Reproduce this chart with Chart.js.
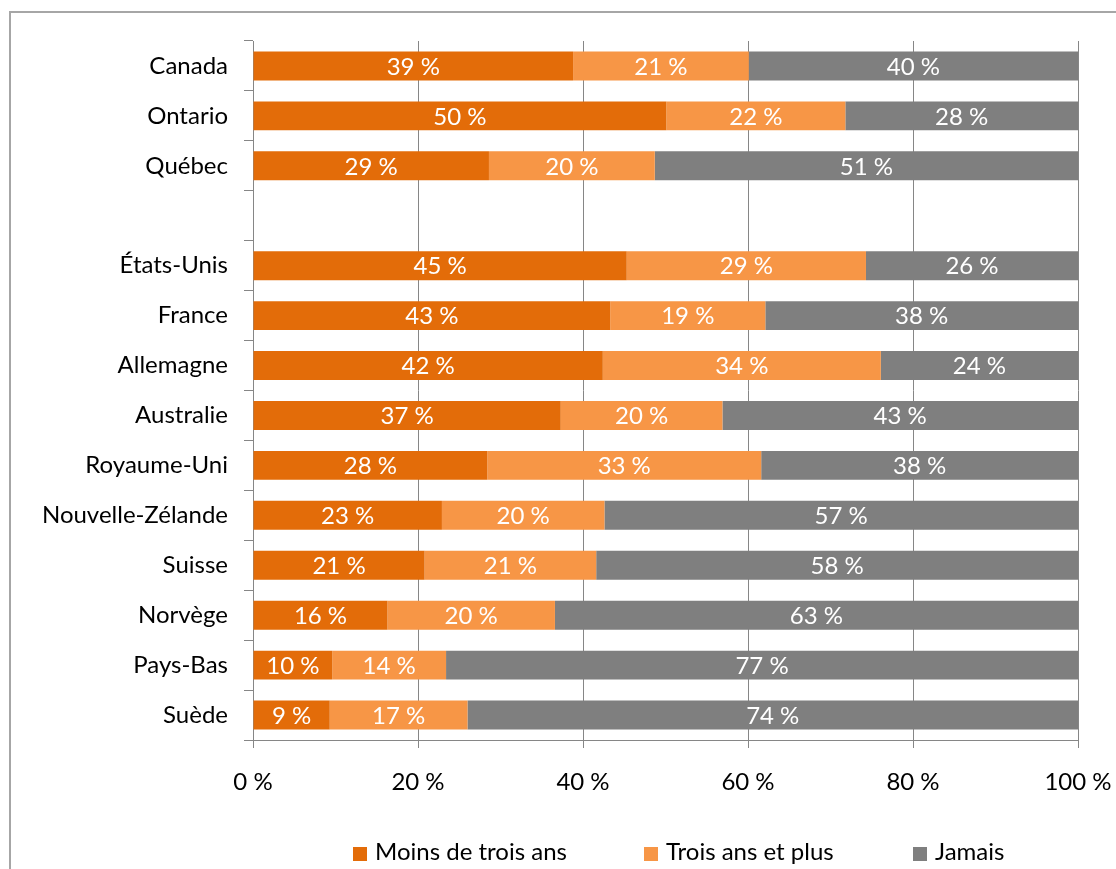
<!DOCTYPE html>
<html lang="fr">
<head>
<meta charset="utf-8">
<title>Dernière visite</title>
<script src="https://cdn.jsdelivr.net/npm/chart.js@4/dist/chart.umd.min.js"></script>
<style>
  html, body { margin: 0; padding: 0; overflow: hidden; background: #fff; }
  #frame {
    position: absolute; left: 9px; top: 11px; width: 1200px; height: 900px;
    border-left: 2px solid #a6a6a6; border-top: 2px solid #a6a6a6;
  }
  #chart { position: absolute; left: 0; top: 0; }
  .legend-item {
    position: absolute; top: 837px; height: 28px; line-height: 28px;
    font-family: Lato, sans-serif; font-size: 24px; color: #000; white-space: nowrap;
  }
  .legend-item span {
    display: inline-block; width: 14px; height: 14px; margin-right: 8px; vertical-align: -1px;
  }
</style>
</head>
<body>
<div id="frame"></div>
<canvas id="chart" width="1116" height="869"></canvas>
<div id="legend"></div>
<script>
// Categories (blank row separates the Canadian rows from the other countries)
const categories = ['Canada', 'Ontario', 'Québec', '', 'États-Unis', 'France', 'Allemagne',
  'Australie', 'Royaume-Uni', 'Nouvelle-Zélande', 'Suisse', 'Norvège', 'Pays-Bas', 'Suède'];

// Shares in %
const moinsDeTroisAns = [38.8, 50.1, 28.6, null, 45.3, 43.3, 42.4, 37.3, 28.4, 22.9, 20.8, 16.3, 9.6, 9.3];
const troisAnsEtPlus  = [21.3, 21.7, 20.1, null, 29.0, 18.8, 33.7, 19.6, 33.2, 19.7, 20.8, 20.3, 13.8, 16.7];
const jamais          = [39.9, 28.2, 51.3, null, 25.7, 37.9, 23.9, 43.1, 38.4, 57.4, 58.4, 63.4, 76.6, 74.0];

const seriesNames = ['Moins de trois ans', 'Trois ans et plus', 'Jamais'];
const xTicks = [0, 20, 40, 60, 80, 100];

const colors = ['#E36C09', '#F79646', '#7F7F7F'];
const axisColor = '#868686';
const font = { family: 'Lato, sans-serif', size: 24 };

// White value labels centred in each segment
const segmentLabels = {
  id: 'segmentLabels',
  afterDatasetsDraw(chart) {
    const ctx = chart.ctx;
    ctx.save();
    ctx.font = font.size + 'px ' + font.family;
    ctx.fillStyle = '#fff';
    ctx.textAlign = 'center';
    ctx.textBaseline = 'middle';
    chart.data.datasets.forEach(function(ds, i) {
      chart.getDatasetMeta(i).data.forEach(function(bar, j) {
        const v = ds.data[j];
        if (v == null) return;
        ctx.fillText(Math.round(v) + ' %', (bar.x + bar.base) / 2, bar.y + 1);
      });
    });
    ctx.restore();
  }
};

const seriesData = [moinsDeTroisAns, troisAnsEtPlus, jamais];

new Chart(document.getElementById('chart'), {
  type: 'bar',
  data: {
    labels: categories,
    datasets: seriesNames.map(function(name, i) {
      return {
        label: name,
        data: seriesData[i],
        backgroundColor: colors[i],
        borderWidth: 0,
        barPercentage: 0.58,
        categoryPercentage: 1
      };
    })
  },
  options: {
    indexAxis: 'y',
    responsive: false,
    animation: false,
    layout: { padding: { top: 41, left: 0, right: 38, bottom: 0 } },
    plugins: {
      legend: { display: false },
      tooltip: { enabled: false }
    },
    scales: {
      x: {
        stacked: true,
        min: 0,
        max: 100,
        afterBuildTicks: function(scale) {
          scale.ticks = xTicks.map(function(v) { return { value: v }; });
        },
        afterFit: function(scale) {
          scale.height = 129;
          scale.paddingLeft = 0;
          scale.paddingRight = 0;
        },
        ticks: {
          color: '#000',
          font: font,
          padding: 20,
          callback: function(v) { return v + ' %'; }
        },
        grid: { color: axisColor, lineWidth: 1, tickLength: 8 },
        border: { color: axisColor, width: 1 }
      },
      y: {
        stacked: true,
        afterFit: function(scale) { scale.width = 253; },
        ticks: { color: '#000', font: font, padding: 16 },
        grid: { drawOnChartArea: false, color: axisColor, tickLength: 9, offset: true },
        border: { color: axisColor, width: 1 }
      }
    }
  },
  plugins: [segmentLabels]
});

// Legend below the chart
const legendLefts = [353, 644, 913];
const legendEl = document.getElementById('legend');
seriesNames.forEach(function(name, i) {
  const item = document.createElement('div');
  item.className = 'legend-item';
  item.style.left = legendLefts[i] + 'px';
  const box = document.createElement('span');
  box.style.background = colors[i];
  item.appendChild(box);
  item.appendChild(document.createTextNode(name));
  legendEl.appendChild(item);
});
</script>
</body>
</html>
